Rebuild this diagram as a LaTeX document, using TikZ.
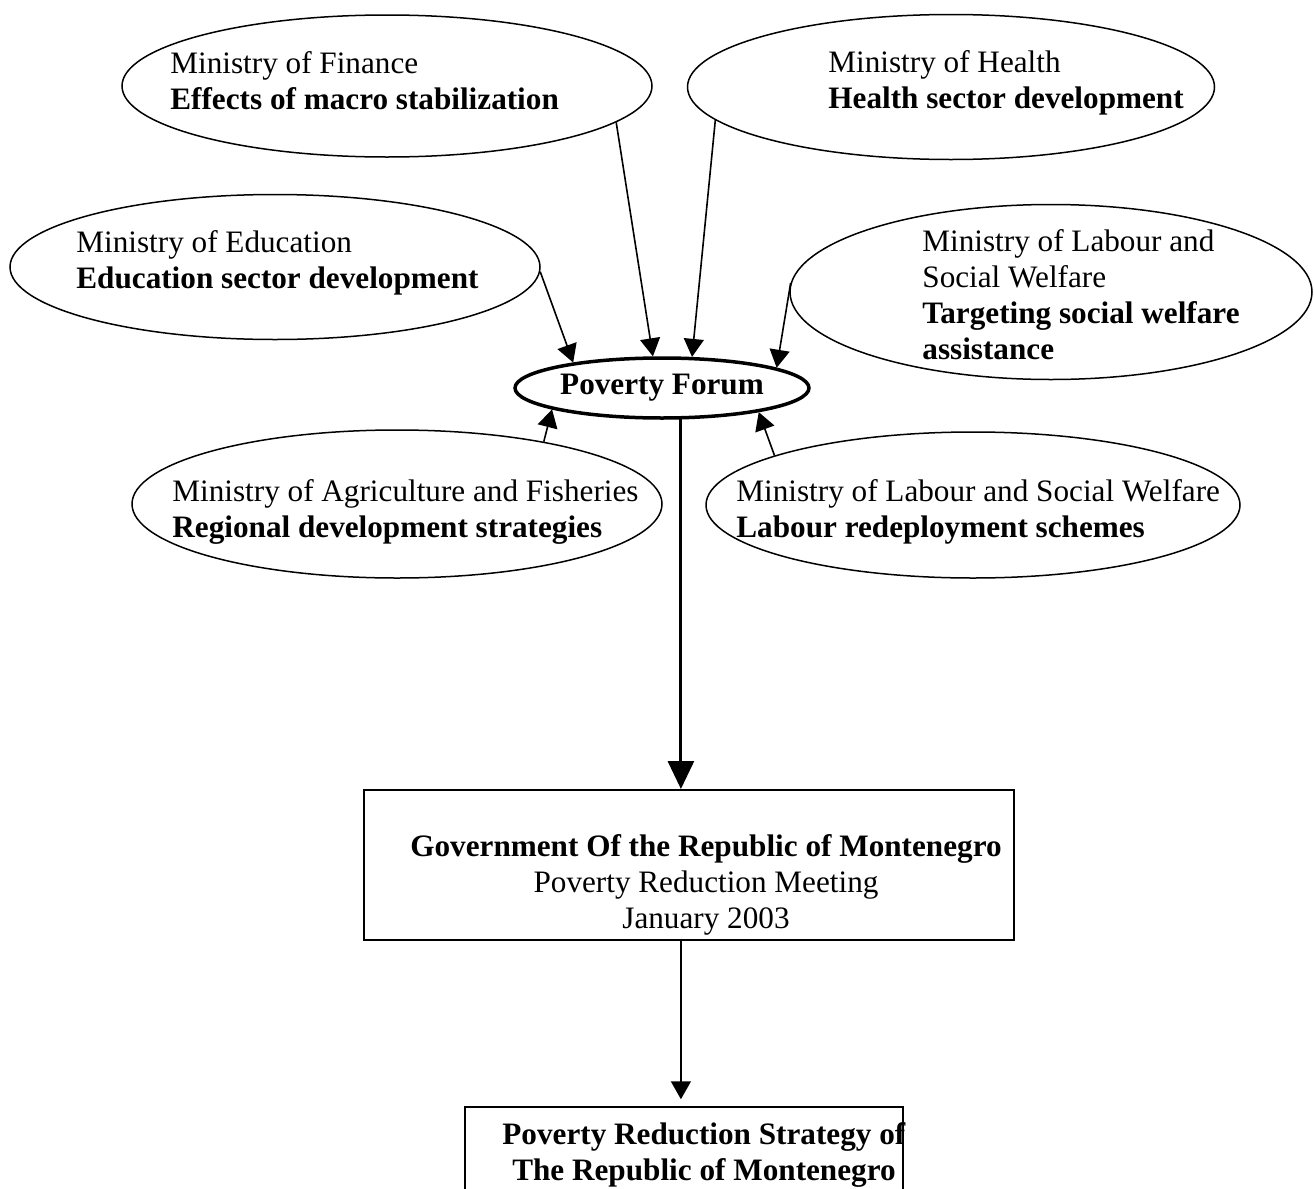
\documentclass[tikz,border=0pt]{standalone}
\usepackage{fontspec}
\setmainfont{Liberation Serif}
\usetikzlibrary{shapes.geometric,arrows.meta,calc}
\begin{document}
\begin{tikzpicture}[x=0.5pt,y=-0.5pt,
  ell/.style={draw, ellipse, line width=0.75pt, inner sep=0pt},
  txt/.style={inner sep=0pt, align=left, font=\fontsize{15.6pt}{18pt}\selectfont},
  arr/.style={line width=0.8pt, -{Triangle[length=9pt,width=10pt]}},
  bigarr/.style={line width=1.5pt, -{Triangle[length=14pt,width=13pt]}},
  box/.style={draw, rectangle, inner sep=0pt}]
\useasboundingbox (0,0) rectangle (1314,1189);
\fill[white] (0,0) rectangle (1314,1189);
\clip (0,0) rectangle (1314,1189);

% ellipses
\node[ell, minimum width=265pt, minimum height=71pt] (fin) at (387,86) {};
\node[ell, minimum width=263.5pt, minimum height=72.5pt] (hea) at (951,87) {};
\node[ell, minimum width=265pt, minimum height=72.5pt] (edu) at (275,267) {};
\node[ell, minimum width=261pt, minimum height=87.5pt] (lab1) at (1051,292) {};
\node[ell, minimum width=265pt, minimum height=74pt] (agr) at (397,504) {};
\node[ell, minimum width=267pt, minimum height=73pt] (lab2) at (973,505) {};
\node[draw, ellipse, line width=1.75pt, inner sep=0pt, minimum width=147pt, minimum height=30pt,
      font=\fontsize{15.6pt}{18pt}\selectfont\bfseries] (pf) at (662,388) {Poverty Forum};

% texts in ellipses
\node[txt, anchor=west] (fint) at (170,81) {Ministry of Finance\\\textbf{Effects of macro stabilization}};
\node[txt, anchor=west] (heat) at (828,83) {Ministry of Health\\\textbf{Health sector development}};
\node[txt, anchor=west] (edut) at (76,263) {Ministry of Education\\\textbf{Education sector development}};
\node[txt, anchor=west] (lab1t) at (922,295) {Ministry of Labour and\\Social Welfare\\\textbf{Targeting social welfare}\\\textbf{assistance}};
\node[txt, anchor=west] (agrt) at (172,512) {Ministry of Agriculture and Fisheries\\\textbf{Regional development strategies}};
\node[txt, anchor=west] (lab2t) at (736,512) {Ministry of Labour and Social Welfare\\\textbf{Labour redeployment schemes}};

% boxes
\node[box, line width=1pt, minimum width=325pt, minimum height=75pt] (gov) at (689,865) {};
\node[txt, align=center] (govt) at (706,885) {\textbf{Government Of the Republic of Montenegro}\\Poverty Reduction Meeting\\January 2003};
\node[box, line width=0.75pt, minimum width=219pt, minimum height=60pt] (prs) at (684,1167) {};
\node[txt, align=center] (prst) at (704,1155) {\textbf{Poverty Reduction Strategy of}\\\textbf{The Republic of Montenegro}};

% connectors
\draw[arr] (fin.-9.75) -- (pf.106.7);
\draw[arr] (hea.188) -- (pf.46.5);
\draw[arr] (edu.-1) -- (pf.164.3);
\draw[arr] (lab1.178.5) -- (pf.10);
\draw[arr] (agr.23.1) -- (pf.191.8);
\draw[arr] (lab2.166.5) -- (pf.-14.8);
\draw[bigarr] (pf.-59.7) -- (pf.-59.7 |- gov.north);
\draw[arr, shorten >=3.5pt] (pf.-59.7 |- gov.south) -- (pf.-59.7 |- prs.north);
\end{tikzpicture}
\end{document}
